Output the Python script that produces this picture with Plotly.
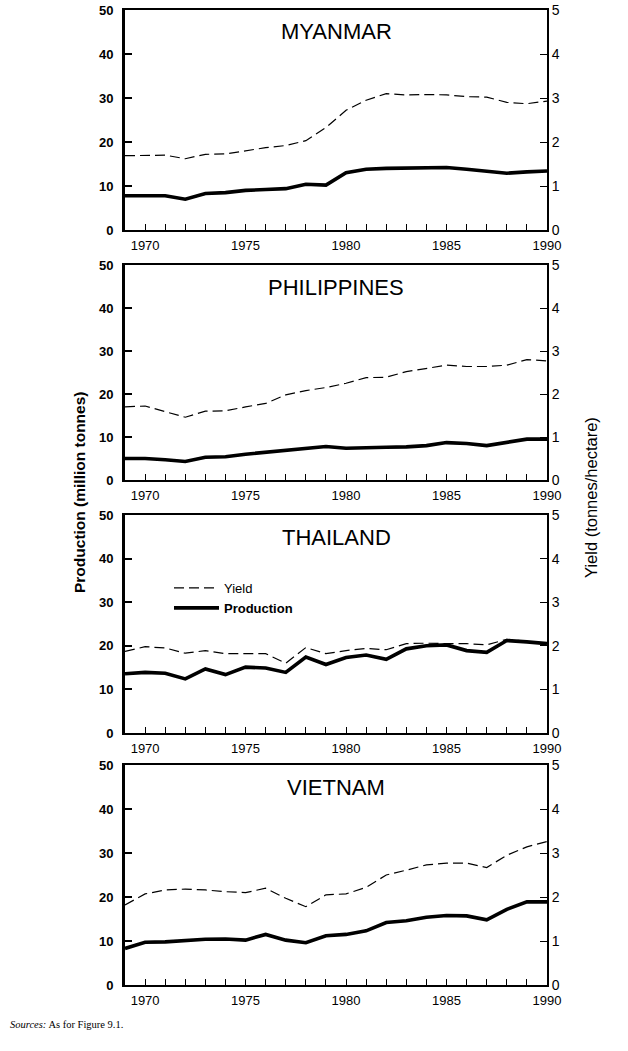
import plotly.graph_objects as go

years = list(range(1969, 1991))
countries = ["MYANMAR", "PHILIPPINES", "THAILAND", "VIETNAM"]

myanmar_production = [7.8, 7.8, 7.8, 7.0, 8.3, 8.5, 9.0, 9.2, 9.4, 10.4, 10.2, 13.0, 13.8, 14.0,
                      14.1, 14.2, 14.2, 13.8, 13.3, 12.9, 13.2, 13.4]
myanmar_yield = [1.69, 1.70, 1.70, 1.62, 1.72, 1.73, 1.80, 1.87, 1.92, 2.03, 2.33, 2.72, 2.95, 3.10,
                 3.07, 3.08, 3.07, 3.03, 3.02, 2.90, 2.87, 2.93]

philippines_production = [5.0, 5.0, 4.7, 4.3, 5.3, 5.4, 6.0, 6.4, 7.0, 7.2, 7.8, 7.4, 7.6, 7.6,
                          7.7, 8.0, 8.7, 8.5, 8.0, 8.7, 9.5, 9.5]
philippines_yield = [1.70, 1.72, 1.59, 1.46, 1.60, 1.61, 1.70, 1.78, 1.98, 2.08, 2.15, 2.25, 2.38, 2.39,
                     2.52, 2.60, 2.67, 2.64, 2.64, 2.67, 2.80, 2.77]

thailand_production = [13.6, 13.9, 13.7, 12.4, 14.7, 13.4, 15.1, 14.9, 13.9, 17.4, 15.7, 17.3, 17.9, 16.9,
                       19.3, 20.0, 20.2, 18.9, 18.5, 21.2, 20.9, 20.5]
thailand_yield = [1.87, 1.98, 1.95, 1.83, 1.89, 1.82, 1.82, 1.82, 1.60, 1.96, 1.82, 1.89, 1.94, 1.91,
                  2.05, 2.06, 2.05, 2.05, 2.02, 2.15, 2.10, 2.06]

vietnam_production = [8.3, 9.7, 9.8, 10.2, 10.4, 10.45, 10.2, 11.5, 10.2, 9.6, 11.2, 11.5, 12.3, 14.2,
                      14.6, 15.4, 15.8, 15.7, 14.8, 17.2, 18.9, 18.9]
vietnam_yield = [1.82, 2.07, 2.16, 2.18, 2.16, 2.12, 2.10, 2.20, 1.97, 1.78, 2.05, 2.07, 2.22, 2.50,
                 2.61, 2.73, 2.77, 2.77, 2.67, 2.95, 3.14, 3.26]

production = [myanmar_production, philippines_production, thailand_production, vietnam_production]
yields = [myanmar_yield, philippines_yield, thailand_yield, vietnam_yield]

W, H = 628, 1051
panel_px = [(10, 230), (265, 480), (515, 733), (765, 985)]
x_px = (125, 547)
FONT = "Liberation Sans, Arial, Helvetica, sans-serif"

fig = go.Figure()
layout = {}
annotations = []

for i, country in enumerate(countries):
    xn = "x" if i == 0 else f"x{i + 1}"
    yp = "y" if i == 0 else f"y{2 * i + 1}"
    ys = f"y{2 * i + 2}"
    show = (i == 2)
    fig.add_trace(go.Scatter(
        x=years, y=yields[i], xaxis=xn, yaxis=ys, mode="lines", name="Yield",
        line=dict(color="black", width=1.2, dash="10px,5px"), showlegend=show))
    fig.add_trace(go.Scatter(
        x=years, y=production[i], xaxis=xn, yaxis=yp, mode="lines", name="<b>Production</b>",
        line=dict(color="black", width=3.6), showlegend=show))

    top, bot = panel_px[i]
    dom = [1 - bot / H, 1 - top / H]
    xkey = "xaxis" if i == 0 else f"xaxis{i + 1}"
    ypkey = "yaxis" if i == 0 else f"yaxis{2 * i + 1}"
    yskey = f"yaxis{2 * i + 2}"
    layout[xkey] = dict(
        domain=[x_px[0] / W, x_px[1] / W], anchor=yp, range=[1969, 1990],
        tick0=1970, dtick=5, ticks="inside", ticklen=6, tickwidth=1.2, tickcolor="black",
        minor=dict(dtick=1, tick0=1969, ticks="inside", ticklen=6, tickwidth=1.2, tickcolor="black"),
        showline=True, linecolor="black", linewidth=1.5, mirror=True,
        showgrid=False, zeroline=False, ticklabelstandoff=3,
        tickfont=dict(family=FONT, size=13, color="black"))
    layout[ypkey] = dict(
        domain=dom, anchor=xn, range=[0, 50], dtick=10, ticks="inside", ticklen=7,
        tickwidth=2, tickcolor="black", showline=True, linecolor="black", linewidth=3,
        showgrid=False, zeroline=False, ticklabelstandoff=6, ticklabeloverflow="allow",
        tickfont=dict(family=FONT, size=13, color="black", weight="bold"))
    layout[yskey] = dict(
        domain=dom, anchor=xn, overlaying=yp, side="right", range=[0, 5], dtick=1,
        ticks="inside", ticklen=7, tickwidth=1.2, tickcolor="black", showline=True,
        linecolor="black", linewidth=2, showgrid=False, zeroline=False,
        ticklabeloverflow="allow",
        tickfont=dict(family=FONT, size=14, color="black"))
    annotations.append(dict(
        text=country, xref="paper", yref="paper", x=336 / W, y=1 - (top + 22) / H,
        xanchor="center", yanchor="middle", showarrow=False,
        font=dict(family=FONT, size=22, color="black")))

annotations.append(dict(
    text="<b>Production (million tonnes)</b>", xref="paper", yref="paper",
    x=79 / W, y=1 - 492 / H, textangle=-90, showarrow=False,
    xanchor="center", yanchor="middle", font=dict(family=FONT, size=15.5, color="black")))
annotations.append(dict(
    text="Yield (tonnes/hectare)", xref="paper", yref="paper",
    x=591 / W, y=1 - 498 / H, textangle=-90, showarrow=False,
    xanchor="center", yanchor="middle", font=dict(family=FONT, size=16.5, color="black")))
annotations.append(dict(
    text="<i>Sources:</i> As for Figure 9.1.", xref="paper", yref="paper",
    x=8 / W, y=1 - 1024 / H, showarrow=False, xanchor="left", yanchor="middle",
    font=dict(family="Liberation Serif, Times New Roman, serif", size=10.5, color="black")))

fig.update_layout(
    width=W, height=H, margin=dict(l=0, r=0, t=0, b=0, autoexpand=False),
    paper_bgcolor="white", plot_bgcolor="white",
    annotations=annotations, hovermode=False,
    legend=dict(x=169 / W, y=1 - 573 / H, xanchor="left", yanchor="top",
                bgcolor="rgba(0,0,0,0)", font=dict(family=FONT, size=13, color="black"),
                tracegroupgap=0, itemwidth=45),
    **layout)

fig.write_html("out.html", config={"displayModeBar": False},
               post_script="document.body.style.margin='0';")
